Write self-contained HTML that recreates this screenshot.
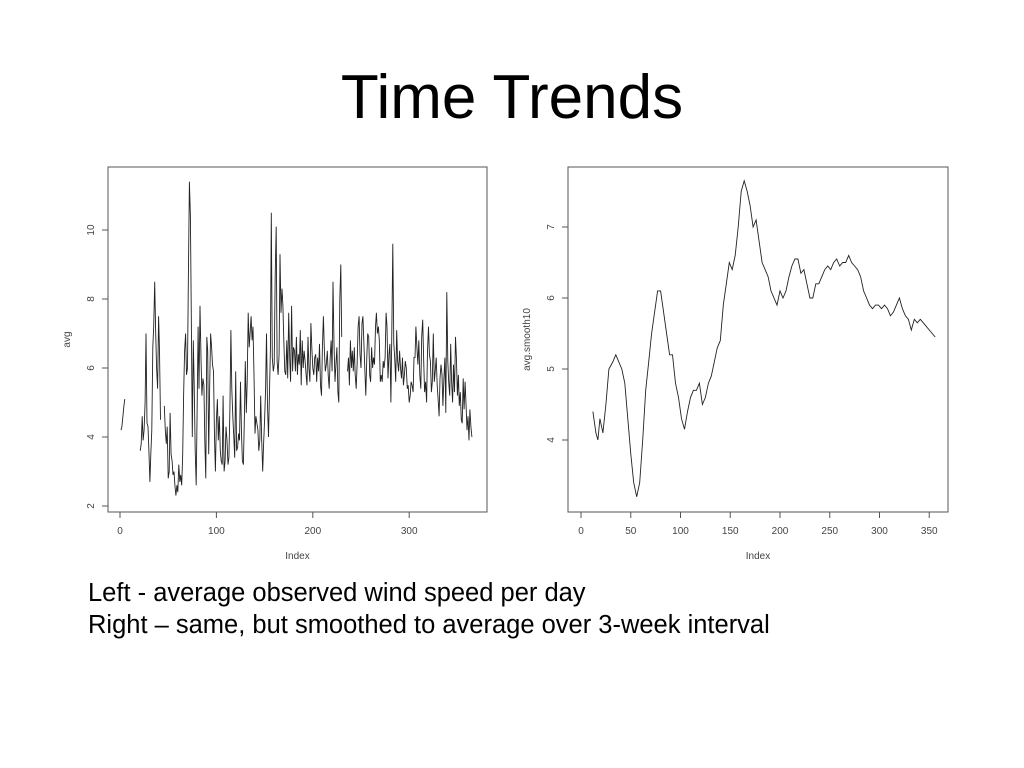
<!DOCTYPE html>
<html><head><meta charset="utf-8"><style>
body{margin:0;background:#fff;width:1024px;height:768px;overflow:hidden;font-family:"Liberation Sans",sans-serif;}
svg{position:absolute;left:0;top:0}
</style></head><body>
<svg id="s" width="1024" height="768">
<text x="512" y="118" text-anchor="middle" font-size="62" font-family="Liberation Sans, sans-serif">Time Trends</text>
<text x="88" y="601" font-size="25.5" font-family="Liberation Sans, sans-serif">Left - average observed wind speed per day</text>
<text x="88" y="633" font-size="25.5" font-family="Liberation Sans, sans-serif">Right – same, but smoothed to average over 3-week interval</text>
<g id="L"></g>
<g id="R"></g>
</svg>
<script>
const leftValues=[4.2,4.3,4.6,4.9,5.1,null,null,null,null,null,null,null,null,null,null,null,null,null,null,null,
3.6,3.8,4.6,3.9,4.2,5.0,7.0,4.4,4.3,3.6,
2.7,3.5,4.2,6.6,7.2,8.5,7.0,6.0,5.4,7.5,
6.5,4.5,null,null,null,4.9,4.2,3.8,4.3,2.8,
3.0,4.7,3.5,3.3,2.9,3.0,2.6,2.3,2.6,2.4,
3.2,2.7,2.9,2.6,3.5,5.2,6.5,7.0,5.8,6.0,
8.7,11.4,10.4,7.5,4.0,6.8,5.5,3.6,2.6,4.7,
7.2,5.4,7.8,6.3,5.2,5.7,5.5,3.9,2.8,6.9,
6.5,3.5,5.5,7.0,6.6,6.1,5.9,4.0,3.0,4.5,
5.1,3.9,4.6,3.6,3.3,3.2,5.2,3.0,3.3,4.3,
3.9,3.2,3.4,4.8,7.1,5.4,4.6,4.0,3.4,5.9,
3.6,3.7,4.1,3.9,5.6,4.1,3.3,3.2,4.6,6.2,
4.7,5.6,7.6,6.6,7.0,7.5,6.8,7.2,5.8,4.1,
4.6,4.4,4.2,3.6,3.9,5.2,3.9,3.0,3.8,4.5,
5.4,7.0,4.9,4.0,5.2,6.5,10.5,6.3,5.9,6.1,
8.7,10.1,6.2,5.8,6.4,9.3,7.6,8.3,7.8,6.7,
5.9,5.8,6.8,5.7,7.6,6.3,5.6,7.8,5.9,6.6,
6.5,5.9,6.9,5.8,6.4,6.1,7.1,5.5,6.8,6.0,
6.5,6.2,5.8,5.5,6.9,6.0,5.6,7.3,6.6,6.0,
5.8,6.3,6.4,5.6,6.3,5.9,6.7,5.5,5.2,6.6,
7.5,6.5,5.9,6.1,6.5,5.8,5.4,6.3,6.8,5.9,
8.5,6.7,5.6,6.1,6.6,5.3,5.0,8.0,9.0,6.9,
null,5.3,null,null,null,5.9,6.3,5.5,6.8,6.0,
6.5,5.9,6.6,5.8,5.4,6.1,7.2,7.5,6.4,6.0,
7.3,7.5,6.7,5.9,5.2,6.3,7.0,6.9,5.8,5.6,
6.6,6.0,6.3,6.1,7.2,7.6,7.0,7.2,6.8,5.6,
5.8,5.6,6.2,6.0,6.3,7.6,7.2,5.7,6.4,6.7,
5.0,7.0,9.6,6.7,6.3,5.6,7.1,6.2,5.9,6.5,
6.0,5.7,6.3,5.5,5.8,6.2,6.0,5.4,5.5,5.0,
5.2,5.6,5.5,5.3,6.3,6.3,7.2,6.6,6.1,6.8,
5.8,5.4,6.9,7.4,6.2,5.3,5.6,5.0,6.5,7.2,
6.4,6.2,5.3,5.6,7.0,5.6,5.9,6.3,5.5,5.1,
4.6,5.7,6.1,5.8,4.9,5.7,6.3,4.7,8.2,6.2,
5.6,5.2,6.7,5.6,5.0,6.1,5.3,6.9,6.3,5.2,
5.8,4.9,5.3,4.5,4.4,5.7,4.8,5.6,4.9,4.2,
4.6,3.9,4.8,4.3,4.0];
const leftXTicks=[0,100,200,300];
const leftYTicks=[2,4,6,8,10];
const rightIdx=[12,15,17,19,22,25,28,32,35,38,41,44,47,50,53,56,59,62,65,68,71,74,77,80,83,86,89,92,95,98,101,104,107,110,113,116,119,122,125,128,131,134,137,140,143,146,149,152,155,158,161,164,167,170,173,176,179,182,185,188,191,194,197,200,203,206,209,212,215,218,221,224,227,230,233,236,239,242,245,248,251,254,257,260,263,266,269,272,275,278,281,284,287,290,293,296,299,302,305,308,311,314,317,320,323,326,329,332,335,338,341,344,347,350,353,356];
const rightValues=[4.4,4.1,4.0,4.3,4.1,4.5,5.0,5.1,5.2,5.1,5.0,4.8,4.3,3.8,3.4,3.2,3.4,4.0,4.7,5.1,5.5,5.8,6.1,6.1,5.8,5.5,5.2,5.2,4.8,4.6,4.3,4.15,4.4,4.6,4.7,4.7,4.8,4.5,4.6,4.8,4.9,5.1,5.3,5.4,5.9,6.2,6.5,6.4,6.6,7.0,7.5,7.65,7.5,7.3,7.0,7.1,6.8,6.5,6.4,6.3,6.1,6.0,5.9,6.1,6.0,6.1,6.3,6.45,6.55,6.55,6.35,6.4,6.2,6.0,6.0,6.2,6.2,6.3,6.4,6.45,6.4,6.5,6.55,6.45,6.5,6.5,6.6,6.5,6.45,6.4,6.3,6.1,6.0,5.9,5.85,5.9,5.9,5.85,5.9,5.85,5.75,5.8,5.9,6.0,5.85,5.75,5.7,5.55,5.7,5.65,5.7,5.65,5.6,5.55,5.5,5.45];
const rightXTicks=[0,50,100,150,200,250,300,350];
const rightYTicks=[4,5,6,7];
const NS='http://www.w3.org/2000/svg';
function mk(p,t,a){const e=document.createElementNS(NS,t);for(const k in a)e.setAttribute(k,a[k]);p.appendChild(e);return e;}
function chart(g,box,sx,sy,xt,yt,ylab,pts,prefix){
  const r=mk(g,'rect',{x:box.x,y:box.y,width:box.w,height:box.h,fill:'none',stroke:'#555','stroke-width':1});
  
  
  const by=box.y+box.h;
  const xa=mk(g,'line',{x1:sx(xt[0]),x2:sx(xt[xt.length-1]),y1:by,y2:by,stroke:'#555'});
  
  
  xt.forEach(v=>{const x=sx(v);mk(g,'line',{x1:x,x2:x,y1:by,y2:by+6,stroke:'#555'});
    const t=mk(g,'text',{x:x,y:by+22,'text-anchor':'middle','font-size':10,fill:'#444'});t.textContent=v;
    
    });
  yt.forEach(v=>{const y=sy(v);mk(g,'line',{x1:box.x,x2:box.x-6,y1:y,y2:y,stroke:'#555'});
    const t=mk(g,'text',{x:box.x-14,y:y,'text-anchor':'middle','font-size':10,fill:'#444',transform:`rotate(-90 ${box.x-14} ${y})`});t.textContent=v;
    
    });
  const xl=mk(g,'text',{x:box.x+box.w/2,y:by+47,'text-anchor':'middle','font-size':10,fill:'#444'});xl.textContent='Index';
  
  
  const yx=box.x-38,yy=box.y+box.h/2;
  const yl=mk(g,'text',{x:yx,y:yy,'text-anchor':'middle','font-size':10,fill:'#444',transform:`rotate(-90 ${yx} ${yy})`});yl.textContent=ylab;
  
  
  let d='',pen=false;
  pts.forEach(([i,v])=>{if(v==null){pen=false;return;}d+=(pen?'L':'M')+sx(i).toFixed(1)+' '+sy(v).toFixed(1);pen=true;});
  const p=mk(g,'path',{d:d,fill:'none',stroke:'#222','stroke-width':0.9});
  
  
}
chart(document.getElementById('L'),{x:108,y:167,w:379,h:345},i=>120+0.964*i,v=>506-34.5*(v-2),leftXTicks,leftYTicks,'avg',leftValues.map((v,k)=>[k+1,v]),'left');
chart(document.getElementById('R'),{x:568,y:167,w:380,h:345},i=>581+0.995*i,v=>440-71*(v-4),rightXTicks,rightYTicks,'avg.smooth10',rightIdx.map((i,k)=>[i,rightValues[k]]),'right');
</script>
</body></html>
